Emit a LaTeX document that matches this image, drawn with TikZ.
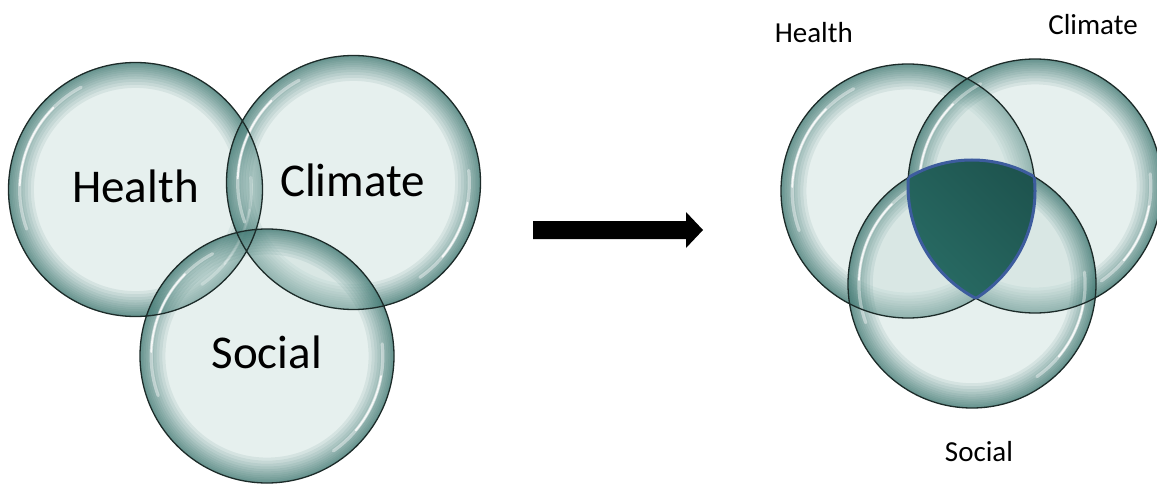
\documentclass[tikz,border=0pt]{standalone}
\usepackage{fontspec}
\setmainfont{Carlito}

\definecolor{bubbase}{HTML}{C8DDD9}
\definecolor{bubrim}{HTML}{2F6C66}
\definecolor{bubline}{HTML}{1C2B29}
\definecolor{coredark}{HTML}{1D524D}
\definecolor{corelight}{HTML}{2F7B72}
\definecolor{coreline}{HTML}{3D5C9E}

\tikzset{
  rimband/.style={fill=bubrim, fill opacity=0.09, even odd rule},
  gloss/.style={draw=white, line cap=round, line width=3.2pt, draw opacity=0.4},
  glosscore/.style={draw=white, line cap=round, line width=1.8pt, draw opacity=0.85},
  bubbleline/.style={draw=bubline, line width=1.3pt},
  biglabel/.style={font=\fontsize{47}{50}\selectfont, anchor=base, inner sep=0pt},
  smalllabel/.style={font=\fontsize{29}{32}\selectfont, anchor=base, inner sep=0pt},
}

% one glassy bubble: #1 centre, #2 radius
\newcommand\drawbubble[2]{%
  \fill[bubbase, fill opacity=0.45] (#1) circle (#2);
  % darker band towards the rim, built from stacked rings
  \foreach \f in {0.99,0.98,0.968,0.955,0.94,0.925,0.908,0.89,0.87,0.848,0.824,0.80}{
    \fill[rimband] (#1) circle (#2) (#1) circle (\f*#2);
  }
  \draw[gloss] ([shift={(118:0.912*#2)}]#1) arc[start angle=118, end angle=200, radius=0.912*#2];
  \draw[glosscore] ([shift={(135:0.912*#2)}]#1) arc[start angle=135, end angle=178, radius=0.912*#2];
  \draw[gloss] ([shift={(-55:0.912*#2)}]#1) arc[start angle=-55, end angle=6, radius=0.912*#2];
  \draw[glosscore] ([shift={(-40:0.912*#2)}]#1) arc[start angle=-40, end angle=-10, radius=0.912*#2];
}

\begin{document}
\begin{tikzpicture}[x=1pt, y=1pt]
\useasboundingbox (0,0) rectangle (1157,483);

% ---------- separate spheres ----------
\coordinate (hL) at (135.5,293.5);
\coordinate (cL) at (353.5,300.5);
\coordinate (sL) at (267,127);
\drawbubble{hL}{127pt}
\drawbubble{cL}{127pt}
\drawbubble{sL}{127pt}
\draw[bubbleline] (hL) circle (127pt) (cL) circle (127pt) (sL) circle (127pt);

\node[biglabel] (tHL) at (135.5,280) {Health};
\node[biglabel] (tCL) at (352.5,286.3) {Climate};
\node[biglabel] (tSL) at (266.7,115) {Social};

% ---------- block arrow ----------
\fill[black] (533,262) -- (686,262) -- (686,271) -- (703,253) -- (686,235)
  -- (686,244) -- (533,244) -- cycle;

% ---------- overlapping spheres ----------
\coordinate (hR) at (908,292);
\coordinate (cR) at (1035,297);
\coordinate (sR) at (972,199);
\drawbubble{hR}{127pt}
\drawbubble{cR}{127pt}
\drawbubble{sR}{124pt}
\draw[bubbleline] (hR) circle (127pt) (cR) circle (127pt) (sR) circle (124pt);

% common core of all three
\begin{scope}
  \clip (hR) circle (127pt);
  \clip (cR) circle (127pt);
  \shade[top color=coredark, bottom color=corelight, shading angle=-45] (sR) circle (124pt);
\end{scope}
\begin{scope}
  \clip (hR) circle (127pt); \clip (cR) circle (127pt);
  \draw[coreline, line width=3pt] (sR) circle (124pt);
\end{scope}
\begin{scope}
  \clip (hR) circle (127pt); \clip (sR) circle (124pt);
  \draw[coreline, line width=3pt] (cR) circle (127pt);
\end{scope}
\begin{scope}
  \clip (cR) circle (127pt); \clip (sR) circle (124pt);
  \draw[coreline, line width=3pt] (hR) circle (127pt);
\end{scope}

\node[smalllabel] (tHR) at (813.8,440.3) {Health};
\node[smalllabel] (tCR) at (1093,448.3) {Climate};
\node[smalllabel] (tSR) at (979,21.3) {Social};
\end{tikzpicture}
\end{document}
